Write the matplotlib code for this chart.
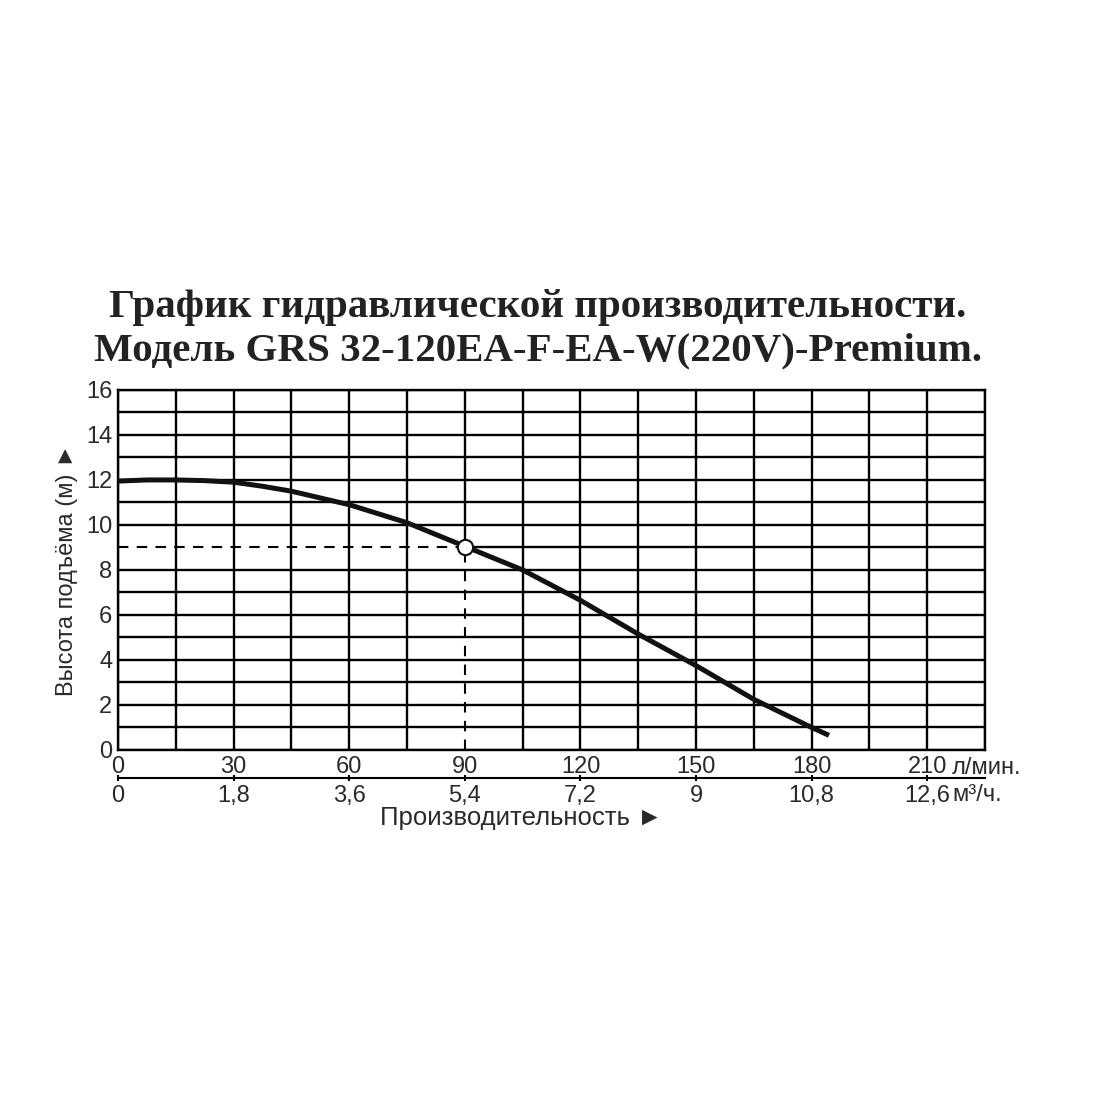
import matplotlib
matplotlib.use("Agg")
import matplotlib.pyplot as plt

# данные кривой
flow = [0, 7.5, 15, 22.5, 30, 37.5, 45, 60, 75, 90, 105, 120, 135, 150, 165, 180, 184.5]
head = [11.95, 12.0, 12.0, 11.97, 11.9, 11.72, 11.5, 10.9, 10.1, 9.05, 8.0, 6.65, 5.15, 3.75, 2.25, 1.0, 0.65]

# рабочая точка
op_flow = 90
op_head = 9

# шкалы
flow_ticks = [0, 30, 60, 90, 120, 150, 180, 210]
flow_labels = ["0", "30", "60", "90", "120", "150", "180", "210"]
m3h_labels = ["0", "1,8", "3,6", "5,4", "7,2", "9", "10,8", "12,6"]
head_ticks = [0, 2, 4, 6, 8, 10, 12, 14, 16]
grid_x = list(range(0, 226, 15))
grid_y = list(range(0, 17))

title = "График гидравлической производительности.\nМодель GRS 32-120EA-F-EA-W(220V)-Premium."

plt.rcParams['font.family'] = ['Liberation Sans', 'DejaVu Sans']
txt = "#2a2a2a"
fs = 17

fig = plt.figure(figsize=(11, 11), dpi=100)
ax = fig.add_axes([0.1073, 0.3182, 0.7882, 0.3273])
ax.set_xlim(0, 225)
ax.set_ylim(0, 16)

# сетка, без участков под пунктиром
lw = 1.7
dash = (0, (5, 4))
for gy in grid_y:
    if gy == op_head:
        ax.hlines(gy, op_flow, 225, color="black", lw=lw, zorder=1)
        ax.hlines(gy, 0, op_flow, color="black", lw=1.5, linestyles=dash, zorder=1)
    else:
        ax.hlines(gy, 0, 225, color="black", lw=lw, zorder=1)
for gx in grid_x:
    if gx == op_flow:
        ax.vlines(gx, op_head, 16, color="black", lw=lw, zorder=1)
        ax.vlines(gx, 0, op_head, color="black", lw=1.5, linestyles=dash, zorder=1)
    else:
        ax.vlines(gx, 0, 16, color="black", lw=lw, zorder=1)

for s in ax.spines.values():
    s.set_linewidth(lw)

ax.plot(flow, head, color="#111111", lw=3.6, solid_capstyle="butt", zorder=3)
ax.plot(op_flow, op_head, "o", ms=11, mfc="white", mec="#111111", mew=1.5, zorder=4)

ax.set_yticks(head_ticks)
ax.set_yticklabels([str(v) for v in head_ticks], fontsize=fs, color=txt)
ax.tick_params(axis="y", length=0, pad=4)

ax.set_xticks(flow_ticks)
ax.set_xticklabels(flow_labels, fontsize=fs, color=txt)
ax.tick_params(axis="x", length=0, pad=4)

# вторая шкала м3/ч
sec = ax.secondary_xaxis(-0.078)
sec.set_xticks(flow_ticks)
sec.set_xticklabels(m3h_labels, fontsize=fs, color=txt)
sec.tick_params(axis="x", length=4, width=1.5, direction="inout", pad=3)
sec.spines["bottom"].set_linewidth(1.5)

ax.annotate("л/мин.", xy=(flow_ticks[-1], 0), xycoords=("data", "axes fraction"),
            xytext=(18, -17.5), textcoords="offset points", ha="left", va="baseline",
            fontsize=fs, color=txt)
ax.annotate("м³/ч.", xy=(flow_ticks[-1], 0), xycoords=("data", "axes fraction"),
            xytext=(18, -36.5), textcoords="offset points", ha="left", va="baseline",
            fontsize=fs, color=txt)

ax.set_ylabel("Высота подъёма (м) ►", fontsize=fs, color=txt, labelpad=6)
ax.text(0.465, -0.19, "Производительность ►", transform=ax.transAxes,
        ha="center", va="center", fontsize=18.5, color=txt)

fig.text(0.489, 0.737, title, ha="center", va="top", fontsize=29.5,
         fontweight="bold", family="Liberation Serif", color="#222222", linespacing=1.22)

fig.savefig("out.png", dpi=100, facecolor="white")
